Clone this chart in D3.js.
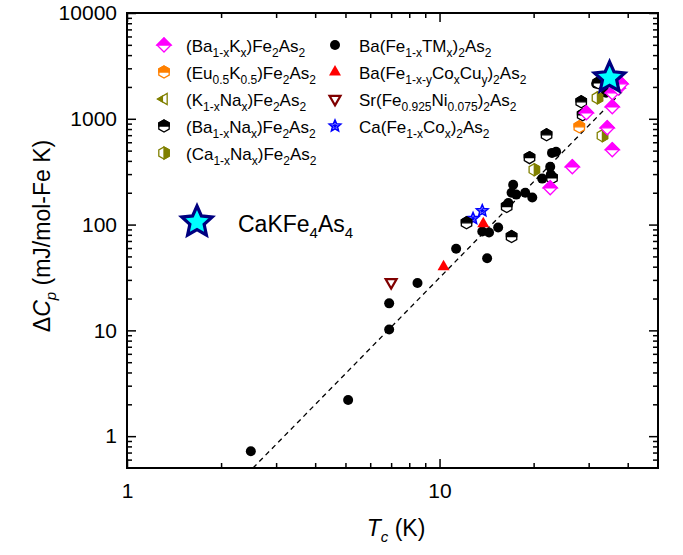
<!DOCTYPE html>
<html><head><meta charset="utf-8">
<script src="https://cdn.jsdelivr.net/npm/d3@7"></script>
<style>
body{margin:0;background:#fff}
text{font-family:"Liberation Sans",Arial,Helvetica,sans-serif;fill:#000}
</style>
</head><body>
<svg id="chart" width="683" height="555"></svg>
<script>
// Each series: [Tc (K), ΔCp (mJ/mol-Fe K)]
const baK   = [[22.6,223],[26.6,352],[29.5,1140],[34.4,822],[35.7,510],[35.7,1300],[35.7,1760],[37.3,1950],[38.1,2140]];
const euK   = [[28.0,840]];
const kNa   = [];
const baNa  = [[12.2,104],[16.4,148],[17.0,77],[19.4,429],[22.0,706],[22.9,277],[28.4,1446],[28.7,1091],[32.2,2190]];
const caNa  = [[20.1,330],[32.0,1578],[33.2,692]];
const baTM  = [[2.49,0.72],[5.1,2.2],[6.9,10.2],[6.9,18],[8.5,28],[11.3,59],[14.2,48],[13.7,86],[14.4,84],[15.4,94],
               [16.6,160],[17.2,238],[17.0,200],[17.6,192],[18.8,200],[19.8,180],[21.3,272],[22.6,352],[22.7,297],
               [23.6,488],[22.9,476],[31.7,2140],[34.1,1760]];
const baCoCu = [[10.3,40],[13.8,102]];
const srNi  = [[7.0,28.5]];
const caCo  = [[12.8,114],[13.7,135]];
const caK   = [[35.0,2440]];
// Dashed ΔCp ∝ Tc^3 guide, end points
const fitLine = [[2.53,0.5],[39,1900]];

// Axis ticks
const xMajor = [1,10];
const xMinor = [2,3,4,5,6,7,8,9,20,30,40];
const yMajor = [1,10,100,1000,10000];
const yMinor = [0.6,0.7,0.8,0.9,2,3,4,5,6,7,8,9,20,30,40,50,60,70,80,90,
                200,300,400,500,600,700,800,900,2000,3000,4000,5000,6000,7000,8000,9000];

// Legend labels, "{...}" marks a subscript
const legendLeft  = ["(Ba{1-x}K{x})Fe{2}As{2}","(Eu{0.5}K{0.5})Fe{2}As{2}","(K{1-x}Na{x})Fe{2}As{2}","(Ba{1-x}Na{x})Fe{2}As{2}","(Ca{1-x}Na{x})Fe{2}As{2}"];
const legendRight = ["Ba(Fe{1-x}TM{x}){2}As{2}","Ba(Fe{1-x-y}Co{x}Cu{y}){2}As{2}","Sr(Fe{0.925}Ni{0.075}){2}As{2}","Ca(Fe{1-x}Co{x}){2}As{2}"];
const caKLabel = "CaKFe{4}As{4}";

const svg = d3.select("#chart");
const L = 127, R = 658, T = 13, B = 468;
const x = d3.scaleLog().domain([1,50]).range([L,R]);
const y = d3.scaleLog().domain([0.5,10000]).range([B,T]);

// ---- marker shapes ----
function diamond(r){return `M0,${-r}L${r},0L0,${r}L${-r},0Z`;}
function diamondTop(r){return `M${-r},0L0,${-r}L${r},0Z`;}
function hexPts(r){const a=[];for(let i=0;i<6;i++){const t=(-90+60*i)*Math.PI/180;a.push([r*Math.cos(t),r*Math.sin(t)]);}return a;}
function hex(r){return "M"+hexPts(r).map(p=>p.join(",")).join("L")+"Z";}
function hexTop(r){const w=r*Math.cos(Math.PI/6);return `M${-w},0L${-w},${-r/2}L0,${-r}L${w},${-r/2}L${w},0Z`;}
function hexRight(r){const w=r*Math.cos(Math.PI/6);return `M0,${-r}L${w},${-r/2}L${w},${r/2}L0,${r}Z`;}
function star(ro,ri){const a=[];for(let i=0;i<10;i++){const rr=i%2?ri:ro,t=(-90+36*i)*Math.PI/180;a.push([rr*Math.cos(t),rr*Math.sin(t)]);}return "M"+a.map(p=>p.join(",")).join("L")+"Z";}
function triUp(s){const h=s*Math.sqrt(3)/2;return `M0,${-h*2/3}L${s/2},${h/3}L${-s/2},${h/3}Z`;}
function triDown(s){const h=s*Math.sqrt(3)/2;return `M0,${h*2/3}L${s/2},${-h/3}L${-s/2},${-h/3}Z`;}
function triLeft(s){const h=s*Math.sqrt(3)/2;return `M${-h*2/3},0L${h/3},${-s/2}L${h/3},${s/2}Z`;}
function triLeftHalf(s){const h=s*Math.sqrt(3)/2;return `M${-h*2/3},0L${-h*2/3+h/2},${-s/4}L${-h*2/3+h/2},${s/4}Z`;}

// each style: list of [path, fill, stroke, strokeWidth]
const styles = {
  baK:   [[diamond(7),"#fff","#ff00ff",1.3],[diamondTop(7),"#ff00ff","#ff00ff",1.3]],
  euK:   [[hex(6),"#fff","#ff8000",1.3],[hexTop(6),"#ff8000","#ff8000",1.3]],
  kNa:   [[triLeft(11),"#fff","#808000",1.3],[triLeftHalf(11),"#808000","#808000",1.3]],
  baNa:  [[hex(6),"#fff","#000",1.3],[hexTop(6),"#000","#000",1.3]],
  caNa:  [[hex(6),"#fff","#808000",1.3],[hexRight(6),"#808000","#808000",1.3]],
  baTM:  [[d3.symbol(d3.symbolCircle, Math.PI*25)(),"#000","none",0]],
  baCoCu:[[triUp(12),"#ff0000","none",0]],
  srNi:  [[triDown(11),"#fff","#800000",2.2]],
  caCo:  [[star(6,2.7),"#fff","#0000ff",1.6],[star(3.5,1.5),"#0000ff","none",0]],
  caK:   [[star(16,7.5),"#00ffff","#000080",3.2]]
};

function drawMarker(g, style){
  styles[style].forEach(([d,f,s,w])=>{
    g.append("path").attr("d",d).attr("fill",f).attr("stroke",s).attr("stroke-width",w).attr("stroke-linejoin","miter");
  });
}

// rich text with subscripts
function richText(sel, str, size, subSize, subDy){
  const parts = str.split(/(\{[^}]*\})/).filter(s=>s.length);
  let down = false;
  parts.forEach(p=>{
    if(p.startsWith("{")){
      sel.append("tspan").attr("font-size",subSize).attr("dy",down?0:subDy).text(p.slice(1,-1));
      down = true;
    } else {
      sel.append("tspan").attr("font-size",size).attr("dy",down?-subDy:0).text(p);
      down = false;
    }
  });
}

// ---- guide line ----
svg.append("path")
  .datum(fitLine)
  .attr("d", d3.line().x(d=>x(d[0])).y(d=>y(d[1])))
  .attr("fill","none").attr("stroke","#000").attr("stroke-width",1.3)
  .attr("stroke-dasharray","5,4");

// ---- data ----
const seriesOrder = [["baTM",baTM],["baCoCu",baCoCu],["srNi",srNi],["caCo",caCo],["baNa",baNa],["caNa",caNa],["kNa",kNa],["euK",euK],["baK",baK],["caK",caK]];
seriesOrder.forEach(([name,data])=>{
  svg.append("g").selectAll("g").data(data).join("g")
    .attr("transform",d=>`translate(${x(d[0])},${y(d[1])})`)
    .each(function(){drawMarker(d3.select(this),name);});
});

// ---- axes ----
const tickStyle = g => { g.select(".domain").remove(); g.selectAll("line").attr("stroke","#000").attr("stroke-width",1.5); };
svg.append("g").attr("transform",`translate(0,${B})`)
  .call(d3.axisBottom(x).tickValues(xMajor).tickSize(-9).tickPadding(15).tickFormat(d3.format("d")))
  .call(tickStyle)
  .call(g=>g.selectAll("text").attr("font-size",21).attr("font-family","Liberation Sans, Arial, sans-serif"));
svg.append("g").attr("transform",`translate(0,${B})`)
  .call(d3.axisBottom(x).tickValues(xMinor).tickSize(-5).tickFormat("")).call(tickStyle);
svg.append("g").attr("transform",`translate(0,${T})`)
  .call(d3.axisTop(x).tickValues(xMajor).tickSize(-9).tickFormat("")).call(tickStyle);
svg.append("g").attr("transform",`translate(0,${T})`)
  .call(d3.axisTop(x).tickValues(xMinor).tickSize(-5).tickFormat("")).call(tickStyle);

svg.append("g").attr("transform",`translate(${L},0)`)
  .call(d3.axisLeft(y).tickValues(yMajor).tickSize(-9).tickPadding(10).tickFormat(d3.format("d")))
  .call(tickStyle)
  .call(g=>g.selectAll("text").attr("font-size",21).attr("font-family","Liberation Sans, Arial, sans-serif"));
svg.append("g").attr("transform",`translate(${L},0)`)
  .call(d3.axisLeft(y).tickValues(yMinor).tickSize(-5).tickFormat("")).call(tickStyle);
svg.append("g").attr("transform",`translate(${R},0)`)
  .call(d3.axisRight(y).tickValues(yMajor).tickSize(-9).tickFormat("")).call(tickStyle);
svg.append("g").attr("transform",`translate(${R},0)`)
  .call(d3.axisRight(y).tickValues(yMinor).tickSize(-5).tickFormat("")).call(tickStyle);

svg.append("rect").attr("x",L).attr("y",T).attr("width",R-L).attr("height",B-T)
  .attr("fill","none").attr("stroke","#000").attr("stroke-width",2);

// ---- axis titles ----
const xt = svg.append("text").attr("x",396).attr("y",536).attr("text-anchor","middle").attr("font-size",23);
xt.append("tspan").attr("font-style","italic").text("T");
xt.append("tspan").attr("font-style","italic").attr("font-size",15).attr("dy",6).text("c");
xt.append("tspan").attr("dy",-6).text(" (K)");

const yt = svg.append("text").attr("transform","translate(50,236) rotate(-90)").attr("text-anchor","middle").attr("font-size",23);
yt.append("tspan").text("Δ");
yt.append("tspan").attr("font-style","italic").text("C");
yt.append("tspan").attr("font-style","italic").attr("font-size",15).attr("dy",6).text("p");
yt.append("tspan").attr("dy",-6).text(" (mJ/mol-Fe K)");

// ---- legend ----
const leftKeys = ["baK","euK","kNa","baNa","caNa"];
const rightKeys = ["baTM","baCoCu","srNi","caCo"];
legendLeft.forEach((lab,i)=>{
  const yy = 45 + i*27;
  const g = svg.append("g").attr("transform",`translate(164,${yy})`);
  drawMarker(g, leftKeys[i]);
  richText(svg.append("text").attr("x",186).attr("y",yy+7), lab, 17, 12, 5);
});
legendRight.forEach((lab,i)=>{
  const yy = 45 + i*27;
  const g = svg.append("g").attr("transform",`translate(335,${yy})`);
  drawMarker(g, rightKeys[i]);
  richText(svg.append("text").attr("x",359).attr("y",yy+7), lab, 17, 12, 5);
});
const gk = svg.append("g").attr("transform","translate(197,222)");
drawMarker(gk,"caK");
richText(svg.append("text").attr("x",238).attr("y",232), caKLabel, 23, 15, 6);
</script>
</body></html>
